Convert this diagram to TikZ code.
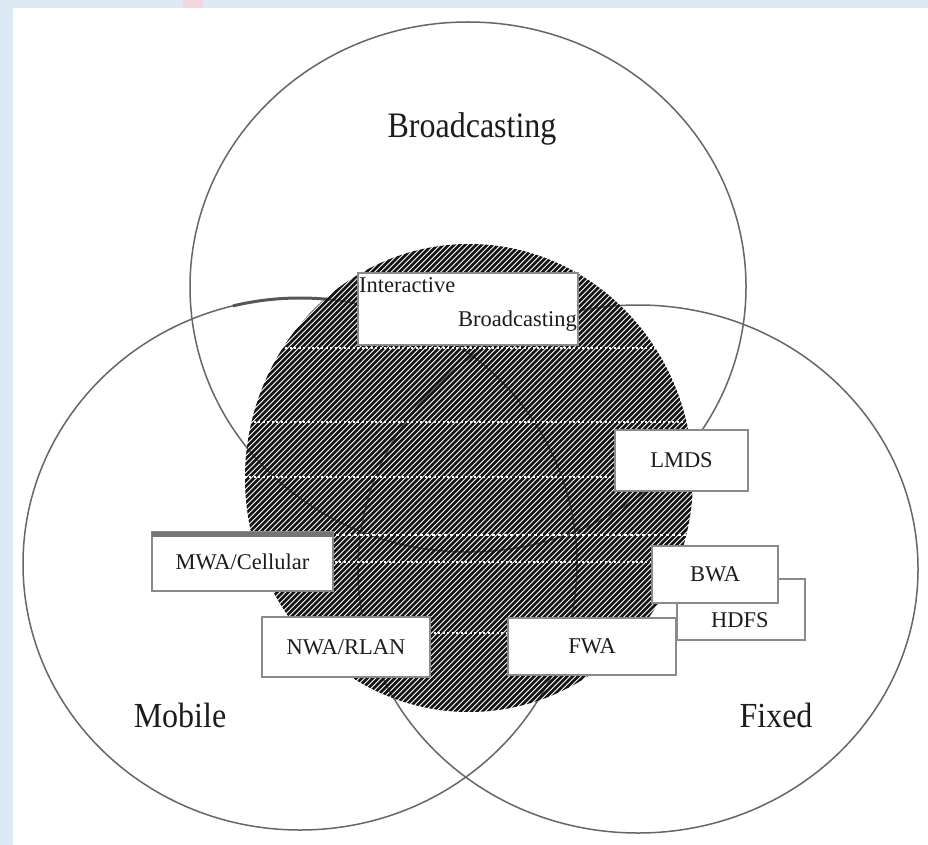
\documentclass[tikz,border=0pt]{standalone}
\usepackage{fontspec}
\setmainfont{Liberation Serif}
\definecolor{bgblue}{HTML}{DDEAF6}
\definecolor{bgpink}{HTML}{F2D6E0}
\definecolor{circgray}{HTML}{666666}
\definecolor{boxgray}{HTML}{8A8A8A}
\definecolor{ink}{HTML}{1C1C1C}
\definecolor{hatchink}{HTML}{141414}
\begin{document}
\begin{tikzpicture}[x=1pt,y=-1pt,
  circ/.style={draw=circgray,line width=1.5pt},
  boxnode/.style={draw=boxgray,line width=1.4pt,fill=white,inner sep=0pt,outer sep=0pt,
     font=\fontsize{22.5}{26}\selectfont,text=ink},
  bigtext/.style={font=\fontsize{32}{36}\selectfont,text=ink,inner sep=0pt},
  smalltext/.style={font=\fontsize{22.5}{26}\selectfont,text=ink,inner sep=0pt},
  hatchline/.style={draw=hatchink,line width=2.6pt},
  scanline/.style={draw=white,line width=1.2pt,dash pattern=on 2pt off 2.5pt}]
\useasboundingbox (0,0) rectangle (928,845);
% background
\fill[bgblue] (0,0) rectangle (928,845);
\fill[bgpink] (183,0) rectangle (203,8);
\fill[white] (13,8) rectangle (928,845);
% three circles
\draw[circ] (468,287) ellipse (278pt and 265pt);
\draw[circ] (300,564) ellipse (277pt and 266pt);
\draw[circ] (638,569) ellipse (280pt and 264pt);
% darker segment on top of the Mobile circle
\draw[draw=circgray!85!black,line width=3pt] (300,564) ++(104:277pt and 266pt)
   arc[start angle=104,end angle=84,x radius=277pt,y radius=266pt];
% hatched central disc
\begin{scope}
  \clip (469,478) ellipse (224pt and 234pt);
  \foreach \s in {-230,-224.5,...,720} {
    \draw[hatchline] (\s,720) -- ++(490,-490);
  }
  \foreach \yy in {348,422,477,562,633} {
    \draw[scanline] (240,\yy) -- (700,\yy);
  }
  \draw[draw=white,line width=1.6pt,dash pattern=on 3pt off 3pt] (240,535) -- (700,535);
\end{scope}
% boxes
\node[boxnode,minimum width=220pt,minimum height=72pt] (ib) at (468,309) {};
\node[smalltext,anchor=west] (ibt1) at (359,285.5) {Interactive};
\node[smalltext,anchor=east] (ibt2) at (577,321) {Broadcasting};
\node[boxnode,minimum width=133pt,minimum height=61pt] (lmds) at (681.5,460.5) {LMDS};
\node[boxnode,minimum width=128pt,minimum height=61pt] (hdfs) at (741,609.5) {};
\node[smalltext] (hdfst) at (740,620) {HDFS};
\node[boxnode,minimum width=126pt,minimum height=57pt] (bwa) at (715,574.5) {BWA};
\node[boxnode,minimum width=168pt,minimum height=57pt] (fwa) at (592,646.5) {FWA};
\node[boxnode,minimum width=168pt,minimum height=60pt] (nwa) at (346,647) {NWA/RLAN};
\node[boxnode,minimum width=181pt,minimum height=59pt] (mwa) at (242.5,561.5) {MWA/Cellular};
\draw[draw=circgray!90,line width=5.5pt] ([yshift=-2.5pt]mwa.north west) -- ([yshift=-2.5pt]mwa.north east);
% region labels
\node[bigtext] (bc) at (472,129) {\scalebox{1}[1.12]{Broadcasting}};
\node[bigtext] (mob) at (180,715) {\scalebox{1}[1.1]{Mobile}};
\node[bigtext] (fix) at (776,715) {\scalebox{1}[1.1]{Fixed}};
\end{tikzpicture}
\end{document}
